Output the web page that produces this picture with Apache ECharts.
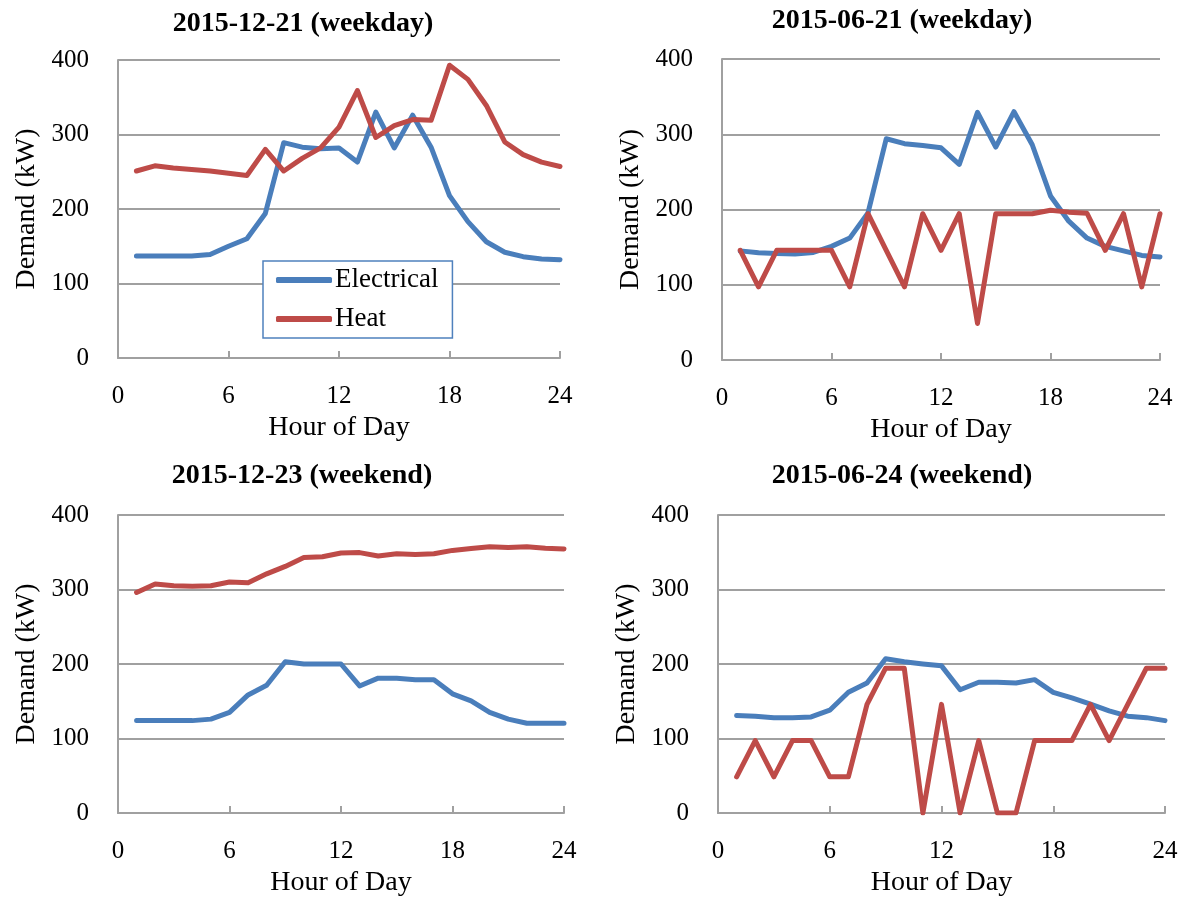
<!DOCTYPE html>
<html>
<head>
<meta charset="utf-8">
<script src="https://cdn.jsdelivr.net/npm/echarts@6/dist/echarts.min.js"></script>
<style>
  html, body { margin: 0; padding: 0; background: #fff; }
  #chart { width: 1183px; height: 898px; }
</style>
</head>
<body>
<div id="chart"></div>
<script>
// Hours of the day (1..24)
const hours = [1,2,3,4,5,6,7,8,9,10,11,12,13,14,15,16,17,18,19,20,21,22,23,24];

// 2015-12-21 (weekday)
const dec21Electrical = [137,137,137,137,139,150,160,194,289,283,281,282,263,330,282,326,283,218,183,156,142,136,133,132];
const dec21Heat = [251,258,255,253,251,248,245,280,251,268,282,310,359,296,312,320,319,393,374,339,290,273,263,257];

// 2015-06-21 (weekday)
const jun21Electrical = [145,142.5,141.5,141,143,151,162,195.5,294,287.5,285,282,260,329,283,330,286,218,184.5,162,151,145,139,137];
const jun21Heat = [145.8,97.2,145.8,145.8,145.8,145.8,97.2,194.4,145.8,97.2,194.4,145.8,194.4,48.6,194.4,194.4,194.4,199,196.5,195,145.8,194.4,97.2,194.4];

// 2015-12-23 (weekend)
const dec23Electrical = [124,124,124,124,126,135,158.5,171.5,203,200,200,200,170.5,181,181,179,179,160,150.5,135,126,120.5,120.5,120.5];
const dec23Heat = [296,307.5,305,304.5,305,310,309,321,331,343,344,349,349.5,345,348,347,348,352.5,355,357.5,356.5,357.5,355.5,354.5];

// 2015-06-24 (weekend)
const jun24Electrical = [131,130,128,128,129,138,162,174.5,207,203,200,197.5,165.5,175.5,175.5,174.5,179,162,154.5,146,137,130,128,124];
const jun24Heat = [48.6,97.2,48.6,97.2,97.2,48.6,48.6,145.8,194.4,194.4,0,145.8,0,97.2,0,0,97.2,97.2,97.2,145.8,97.2,145.8,194.4,194.4];

const panelTitles = ['2015-12-21 (weekday)', '2015-06-21 (weekday)', '2015-12-23 (weekend)', '2015-06-24 (weekend)'];
const xTicks = [0, 6, 12, 18, 24];
const yTicks = [0, 100, 200, 300, 400];

const panels = [
  { title: panelTitles[0], elec: dec21Electrical, heat: dec21Heat },
  { title: panelTitles[1], elec: jun21Electrical, heat: jun21Heat },
  { title: panelTitles[2], elec: dec23Electrical, heat: dec23Heat },
  { title: panelTitles[3], elec: jun24Electrical, heat: jun24Heat }
];

// Plot-area boxes and title anchors for the 2x2 layout
const layout = [
  { left: 118, top: 60, width: 442, height: 298, titleX: 298, titleY: 5 },
  { left: 722, top: 59, width: 438, height: 301, titleX: 897, titleY: 2 },
  { left: 118, top: 515, width: 446, height: 301, titleX: 297, titleY: 457 },
  { left: 718, top: 515, width: 447, height: 301, titleX: 897, titleY: 457 }
];

const FONT = '"Liberation Serif", "DejaVu Serif", serif';
const BLUE = '#4a7ebb';
const RED = '#be4b48';
const GREY = '#a0a0a0';

const pairs = (vals) => hours.map((h, i) => [h, vals[i]]);

const option = {
  backgroundColor: '#ffffff',
  animation: false,
  textStyle: { fontFamily: FONT, color: '#000' },
  title: layout.map((g, i) => ({
    text: panels[i].title,
    left: g.titleX,
    top: g.titleY,
    textAlign: 'center',
    textStyle: { fontFamily: FONT, fontWeight: 'bold', fontSize: 28, color: '#000' }
  })),
  legend: [{
    data: ['Electrical', 'Heat'],
    orient: 'vertical',
    left: 263,
    top: 261,
    padding: [5, 14, 5, 13],
    itemGap: 11,
    itemWidth: 56,
    itemHeight: 6,
    icon: 'roundRect',
    borderColor: '#4f81bd',
    borderWidth: 1.5,
    backgroundColor: '#ffffff',
    textStyle: { fontFamily: FONT, fontSize: 27, color: '#000', lineHeight: 28, padding: [0, 0, 0, -2] }
  }],
  grid: layout.map(g => ({ left: g.left, top: g.top, width: g.width, height: g.height, containLabel: false })),
  xAxis: layout.map((g, i) => ({
    type: 'value',
    gridIndex: i,
    min: xTicks[0],
    max: xTicks[xTicks.length - 1],
    interval: 6,
    name: 'Hour of Day',
    nameLocation: 'middle',
    nameGap: 56,
    nameTextStyle: { fontFamily: FONT, fontSize: 28, color: '#000' },
    axisLine: { show: true, lineStyle: { color: GREY, width: 2 } },
    axisTick: { show: true, inside: true, length: 7, lineStyle: { color: GREY, width: 2 } },
    axisLabel: { fontFamily: FONT, fontSize: 25, color: '#000', margin: 26 },
    splitLine: { show: false }
  })),
  yAxis: layout.map((g, i) => ({
    type: 'value',
    gridIndex: i,
    min: yTicks[0],
    max: yTicks[yTicks.length - 1],
    interval: 100,
    name: 'Demand (kW)',
    nameLocation: 'middle',
    nameGap: 77,
    nameRotate: 90,
    nameTextStyle: { fontFamily: FONT, fontSize: 28, color: '#000' },
    axisLine: { show: true, lineStyle: { color: GREY, width: 2 } },
    axisTick: { show: false },
    axisLabel: { fontFamily: FONT, fontSize: 25, color: '#000', margin: 29 },
    splitLine: { show: true, lineStyle: { color: GREY, width: 2 } }
  })),
  series: []
};

panels.forEach((p, i) => {
  option.series.push({
    name: 'Electrical',
    type: 'line',
    xAxisIndex: i,
    yAxisIndex: i,
    data: pairs(p.elec),
    showSymbol: false,
    symbol: 'none',
    color: BLUE,
    lineStyle: { color: BLUE, width: 5, cap: 'round', join: 'round' },
    z: 3
  });
  option.series.push({
    name: 'Heat',
    type: 'line',
    xAxisIndex: i,
    yAxisIndex: i,
    data: pairs(p.heat),
    showSymbol: false,
    symbol: 'none',
    color: RED,
    lineStyle: { color: RED, width: 5, cap: 'round', join: 'round' },
    z: 4
  });
});

const chart = echarts.init(document.getElementById('chart'), null, { renderer: 'canvas' });
chart.setOption(option);
</script>
</body>
</html>
